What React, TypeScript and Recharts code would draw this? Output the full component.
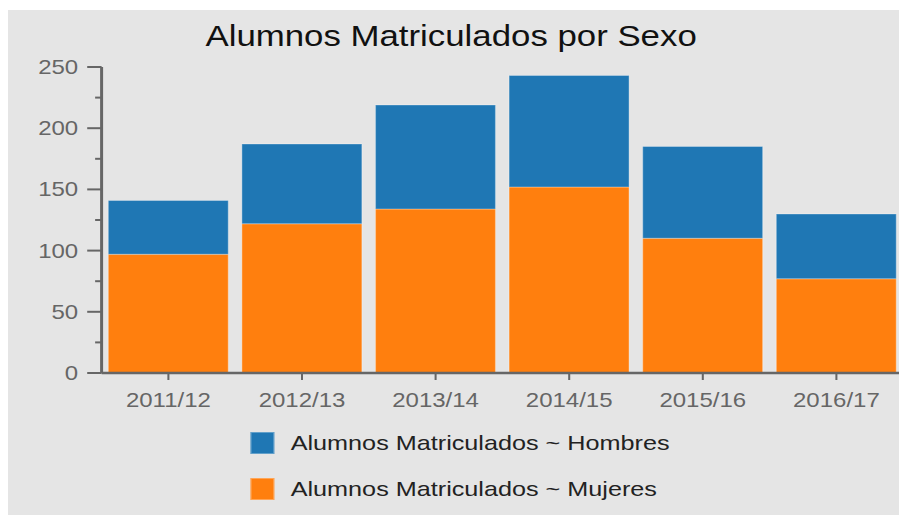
import React from 'react';
import { BarChart, Bar, XAxis, YAxis, Legend } from 'recharts';

const categories = ['2011/12', '2012/13', '2013/14', '2014/15', '2015/16', '2016/17'];
const hombres = [44, 65, 85, 91, 75, 53];
const mujeres = [97, 122, 134, 152, 110, 77];
const yTicks = [0, 25, 50, 75, 100, 125, 150, 175, 200, 225, 250];
const title = 'Alumnos Matriculados por Sexo';
const nameHombres = 'Alumnos Matriculados ~ Hombres';
const nameMujeres = 'Alumnos Matriculados ~ Mujeres';
const legendOrder = [nameHombres, nameMujeres];

const data = categories.map((c, i) => ({ year: c, hombres: hombres[i], mujeres: mujeres[i] }));

const FONT = '"Liberation Sans", Arial, Helvetica, sans-serif';
const AXIS = '#666666';
const BLUE = '#1f77b4';
const ORANGE = '#ff7f0e';

const YTick = (props: any) => {
  const { x, y, payload } = props;
  const v = payload.value as number;
  const major = v % 50 === 0;
  const len = major ? 12 : 5.4;
  return (
    <g>
      <line x1={x - len} x2={x} y1={y} y2={y} stroke={AXIS} strokeWidth={2} />
      {major && (
        <text
          x={x - 19.5}
          y={y}
          dy="0.355em"
          textAnchor="end"
          fill={AXIS}
          fontSize={20}
          fontFamily={FONT}
        >
          {v}
        </text>
      )}
    </g>
  );
};

const LegendContent = (props: any) => {
  const items = [...(props.payload || [])].sort(
    (a: any, b: any) => legendOrder.indexOf(a.value) - legendOrder.indexOf(b.value)
  );
  return (
    <div style={{ fontFamily: FONT, fontSize: 21, color: '#222' }}>
      {items.map((it: any, i: number) => (
        <div
          key={i}
          style={{ display: 'flex', alignItems: 'center', height: 22, marginBottom: i === 0 ? 24.5 : 0 }}
        >
          <span
            style={{
              display: 'inline-block',
              width: 20.6,
              height: 22,
              background: it.color,
              boxSizing: 'border-box',
              border: '1px solid rgba(255,255,255,0.3)',
            }}
          />
          <span style={{ marginLeft: 13.3, whiteSpace: 'nowrap' }}>{it.value}</span>
        </div>
      ))}
    </div>
  );
};

export default function App() {
  return (
    <div
      style={{
        position: 'absolute',
        left: 8,
        top: 10,
        width: 891,
        height: 505,
        overflow: 'hidden',
        background: '#e5e5e5',
      }}
    >
      <div
        style={{
          position: 'relative',
          width: 746,
          height: 505,
          transform: 'scaleX(1.2)',
          transformOrigin: '0 0',
        }}
      >
        <div
          style={{
            position: 'absolute',
            left: 0,
            top: 12,
            width: 738.5,
            textAlign: 'center',
            fontFamily: FONT,
            fontSize: 29,
            lineHeight: '29px',
            color: '#111',
            whiteSpace: 'nowrap',
          }}
        >
          {title}
        </div>
        <BarChart
          width={746}
          height={505}
          data={data}
          margin={{ top: 57, right: 0, left: 0, bottom: 32 }}
          barCategoryGap="5%"
        >
          <XAxis
            dataKey="year"
            height={40}
            tickSize={7}
            tickMargin={13}
            tick={{ fill: AXIS, fontSize: 20, fontFamily: FONT }}
            axisLine={{ stroke: AXIS, strokeWidth: 2.5 }}
            tickLine={{ stroke: AXIS, strokeWidth: 1.7 }}
          />
          <YAxis
            width={78}
            domain={[0, 250]}
            ticks={yTicks}
            interval={0}
            tickSize={0}
            tickMargin={0}
            tickLine={false}
            axisLine={{ stroke: AXIS, strokeWidth: 2.5 }}
            tick={<YTick />}
          />
          <Legend
            layout="vertical"
            align="center"
            verticalAlign="bottom"
            content={<LegendContent />}
            wrapperStyle={{ left: 201.7, top: 421.7, height: 70, width: 420 }}
          />
          <Bar
            dataKey="mujeres"
            name={nameMujeres}
            stackId="a"
            fill={ORANGE}
            stroke="rgba(255,255,255,0.3)"
            strokeWidth={1}
            isAnimationActive={false}
          />
          <Bar
            dataKey="hombres"
            name={nameHombres}
            stackId="a"
            fill={BLUE}
            stroke="rgba(255,255,255,0.3)"
            strokeWidth={1}
            isAnimationActive={false}
          />
        </BarChart>
      </div>
    </div>
  );
}
